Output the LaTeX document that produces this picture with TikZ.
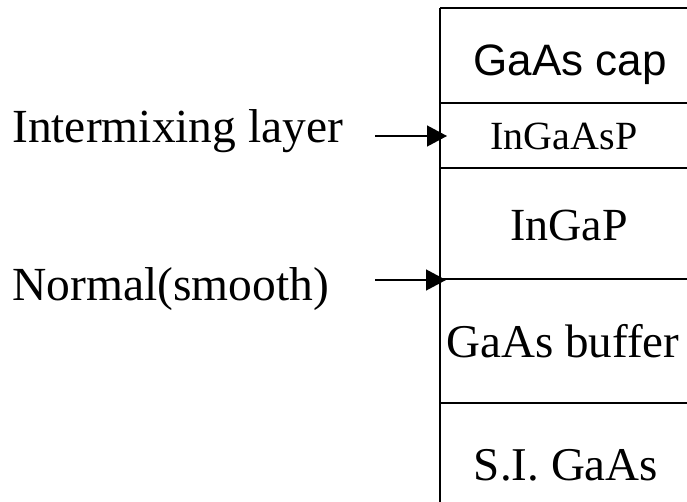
\documentclass[tikz,border=0pt]{standalone}
\usepackage{fontspec}
\setmainfont{Liberation Serif}
\newfontfamily\capsans{Liberation Sans}
\usetikzlibrary{arrows.meta}
\tikzset{
  layerline/.style={line width=2.6pt},
  lbl/.style={anchor=base west, inner sep=0pt, font=\fontsize{47.5}{56}\selectfont},
  layertxt/.style={anchor=base, inner sep=0pt},
  pointer/.style={line width=1.4pt, -{Triangle[length=20pt,width=21pt]}}
}
\begin{document}
\begin{tikzpicture}[x=1pt,y=-1pt]
\useasboundingbox (0,0) rectangle (687,502);
% layer boundaries
\coordinate (tl) at (440,8);
\coordinate (bl) at (440,502);
\foreach \y/\n in {8/b0,103/b1,168/b2,279/b3,403/b4}{
  \coordinate (\n L) at (440,\y);
  \coordinate (\n R) at (688,\y);
  \draw[layerline] (\n L) -- (\n R);
}
\draw[layerline] (tl) -- (bl);
% layer names
\node[layertxt, font=\capsans\fontsize{44}{52}\selectfont] (cap) at (570,76) {GaAs cap};
\node[layertxt, font=\fontsize{40}{48}\selectfont] (ingaasp) at (564,150) {InGaAsP};
\node[layertxt, font=\fontsize{46}{55}\selectfont] (ingap) at (569,241) {InGaP};
\node[layertxt, font=\fontsize{47}{56}\selectfont] (buffer) at (563,357) {GaAs buffer};
\node[layertxt, font=\fontsize{47}{56}\selectfont] (sub) at (566,480) {S.I. GaAs};
% labels
\node[lbl] (inter) at (12,143) {Intermixing layer};
\node[lbl] (normal) at (12,300) {Normal(smooth)};
% arrows
\coordinate (a1s) at (375,136);
\coordinate (a1e) at (447,136);
\coordinate (a2s) at (375,280);
\coordinate (a2e) at (446,280);
\draw[pointer] (a1s) -- (a1e);
\draw[pointer] (a2s) -- (a2e);
\end{tikzpicture}
\end{document}
